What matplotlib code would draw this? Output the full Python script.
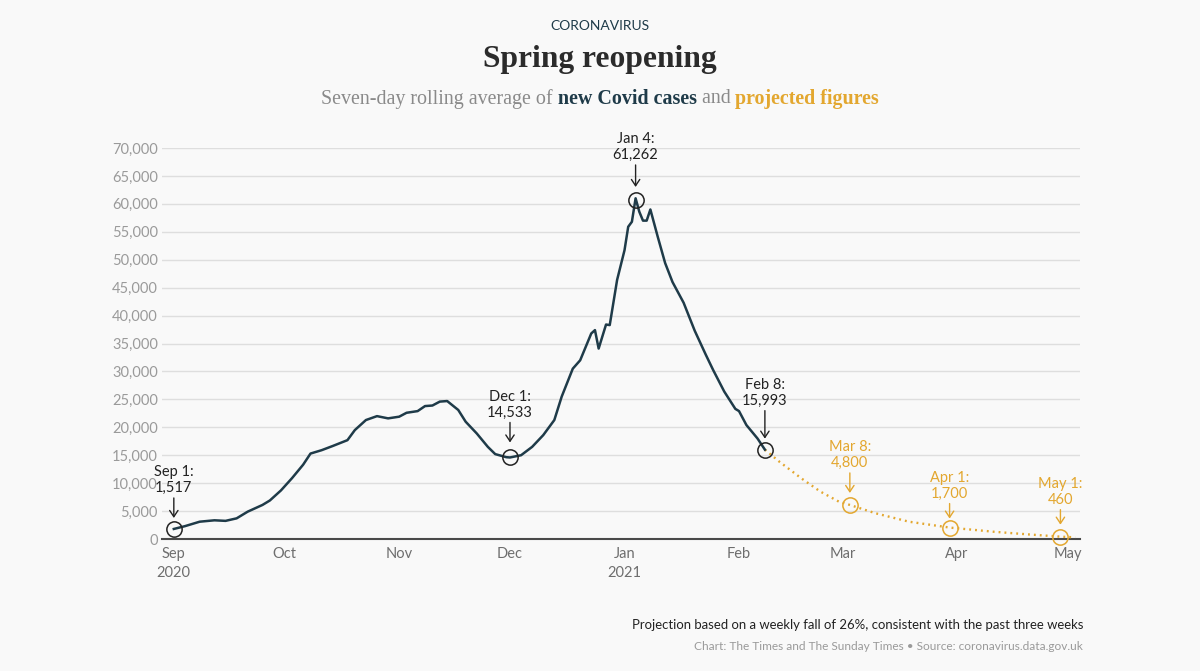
import matplotlib
matplotlib.use('Agg')
import matplotlib.pyplot as plt
import pandas as pd

# Datos (días desde el 1 de septiembre de 2020)
inicio = pd.Timestamp('2020-09-01')

dias_casos = [0, 3, 7, 11, 14, 17, 20, 24, 26, 29, 32, 35, 37, 40, 43, 47,
              49, 52, 55, 58, 61, 63, 66, 68, 70, 72, 74, 77, 79, 82, 85, 87,
              90, 91, 94, 97, 100, 103, 105, 108, 110, 113, 114, 115, 117, 118,
              120, 122, 123, 124, 125, 126, 127, 128, 129, 131, 133, 135, 138,
              141, 144, 146, 149, 152, 153, 155, 158, 160]
casos = [1800, 2300, 3100, 3350, 3250, 3700, 4900, 6100, 6900, 8700, 10900,
         13300, 15300, 15900, 16650, 17700, 19500, 21300, 22000, 21600, 21900,
         22600, 22900, 23800, 23900, 24600, 24700, 23100, 21000, 18900, 16500,
         15200, 14650, 14600, 15000, 16500, 18600, 21300, 25500, 30500, 32000,
         36800, 37400, 34100, 38400, 38300, 46400, 51700, 55900, 56800, 61000,
         58600, 57000, 57000, 59000, 54100, 49400, 46000, 42300, 37300, 33000,
         30250, 26400, 23300, 22900, 20400, 18000, 16000]

dias_proy = [160, 164, 170, 175, 180, 183, 190, 199, 210, 222, 231, 240, 244]
proyeccion = [16000, 13800, 10800, 8500, 6700, 6100, 4600, 3100, 2050, 1300,
              840, 420, 300]

# Puntos anotados
dias_hitos = [0, 91, 125, 160]
valores_hitos = [1800, 14600, 60700, 16000]
textos_hitos = ['Sep 1:\n1,517', 'Dec 1:\n14,533', 'Jan 4:\n61,262', 'Feb 8:\n15,993']

dias_hitos_proy = [183, 210, 240]
valores_hitos_proy = [6100, 2050, 420]
textos_hitos_proy = ['Mar 8:\n4,800', 'Apr 1:\n1,700', 'May 1:\n460']

meses = ['2020-09-01', '2020-10-01', '2020-11-01', '2020-12-01', '2021-01-01',
         '2021-02-01', '2021-03-01', '2021-04-01', '2021-05-01']
etiquetas_meses = ['Sep\n2020', 'Oct', 'Nov', 'Dec', 'Jan\n2021', 'Feb', 'Mar',
                   'Apr', 'May']

# Estilo
FONDO = '#f9f9f9'
AZUL = '#1f3b49'
ORO = '#e3a72f'
GRIS = '#9a9a9a'
SANS = ['Lato', 'DejaVu Sans']
SERIF = ['Liberation Serif', 'DejaVu Serif']

plt.rcParams['font.family'] = SANS


def a_fecha(dias):
    return inicio + pd.to_timedelta(dias, unit='D')


fig = plt.figure(figsize=(12, 6.71), dpi=100, facecolor=FONDO)
ax = fig.add_axes([0.135, 0.1967, 0.765, 0.5827])
ax.set_facecolor(FONDO)

ax.plot(a_fecha(dias_proy), proyeccion, color=ORO, lw=1.7, ls=(0, (0.8, 1.7)),
        zorder=3)
ax.plot(a_fecha(dias_casos), casos, color=AZUL, lw=1.8, zorder=4,
        solid_joinstyle='round')

# flecha: (px sobre el punto hasta la punta, px hasta la cola)
flechas_hitos = [(11, 31), (15, 35), (13, 35), (11, 39)]
flechas_proy = [(12, 32), (9, 24), (12, 27)]


def marcar(dias, valores, textos, flechas, color):
    fechas = a_fecha(dias)
    ax.plot(fechas, valores, 'o', mfc='none', mec=color, ms=11, mew=1.1,
            zorder=5, clip_on=False)
    for f, v, t, (punta, cola) in zip(fechas, valores, textos, flechas):
        ax.annotate('', xy=(f, v), xytext=(0, cola * 0.72),
                    textcoords='offset points',
                    arrowprops=dict(arrowstyle='->,head_width=0.3,head_length=0.45',
                                    shrinkA=0, shrinkB=punta * 0.72, lw=1,
                                    color=color, mutation_scale=10))
        ax.annotate(t, xy=(f, v), xytext=(0, (cola + 3) * 0.72),
                    textcoords='offset points', ha='center', va='bottom',
                    fontsize=10.5, color=color, linespacing=1.15)


marcar(dias_hitos, valores_hitos, textos_hitos, flechas_hitos, '#222222')
marcar(dias_hitos_proy, valores_hitos_proy, textos_hitos_proy, flechas_proy, ORO)

ax.set_xlim(a_fecha(-3.2), a_fecha(245.3))
ax.set_ylim(0, 70000)
ax.set_yticks(range(0, 70001, 5000))
ax.set_yticklabels([f'{v:,}' for v in range(0, 70001, 5000)])
ax.set_xticks(pd.to_datetime(meses))
ax.set_xticklabels(etiquetas_meses, linespacing=1.45)
ax.tick_params(axis='y', length=0, pad=3, labelsize=10.5, labelcolor=GRIS)
ax.tick_params(axis='x', length=0, pad=6, labelsize=10.5, labelcolor='#6e6e6e')
ax.grid(True, axis='y', color='#dedede', lw=1)
ax.set_axisbelow(True)
for lado in ['top', 'right', 'left']:
    ax.spines[lado].set_visible(False)
ax.spines['bottom'].set_color('#4a4a4a')
ax.spines['bottom'].set_linewidth(1.5)

# Cabecera
fig.text(0.5, 0.9613, 'CORONAVIRUS', ha='center', va='center', fontsize=10,
         color=AZUL, family=SANS)
fig.text(0.5, 0.9106, 'Spring reopening', ha='center', va='center',
         fontsize=22.7, fontweight='bold', color='#2b2b2b', family=SERIF)

trozos = [('Seven-day rolling average of ', '#8a8a8a', 'normal'),
          ('new Covid cases', AZUL, 'bold'),
          (' and ', '#8a8a8a', 'normal'),
          ('projected figures', ORO, 'bold')]
fig.canvas.draw()
renderer = fig.canvas.get_renderer()
textos = []
for txt, col, peso in trozos:
    t = fig.text(0, 0.8525, txt, ha='left', va='center', fontsize=14.4,
                 color=col, fontweight=peso, family=SERIF)
    textos.append(t)
anchos = [t.get_window_extent(renderer).width for t in textos]
x = (1200 - sum(anchos)) / 2
for t, w in zip(textos, anchos):
    t.set_x(x / 1200)
    x += w

# Pie
fig.text(0.9025, 0.0686,
         'Projection based on a weekly fall of 26%, consistent with the past three weeks',
         ha='right', va='center', fontsize=9.45, color='#222222')
fig.text(0.9025, 0.0358,
         'Chart: The Times and The Sunday Times \u2022 Source: coronavirus.data.gov.uk',
         ha='right', va='center', fontsize=8.6, color=GRIS)

fig.savefig('out.png', dpi=100, facecolor=FONDO)
